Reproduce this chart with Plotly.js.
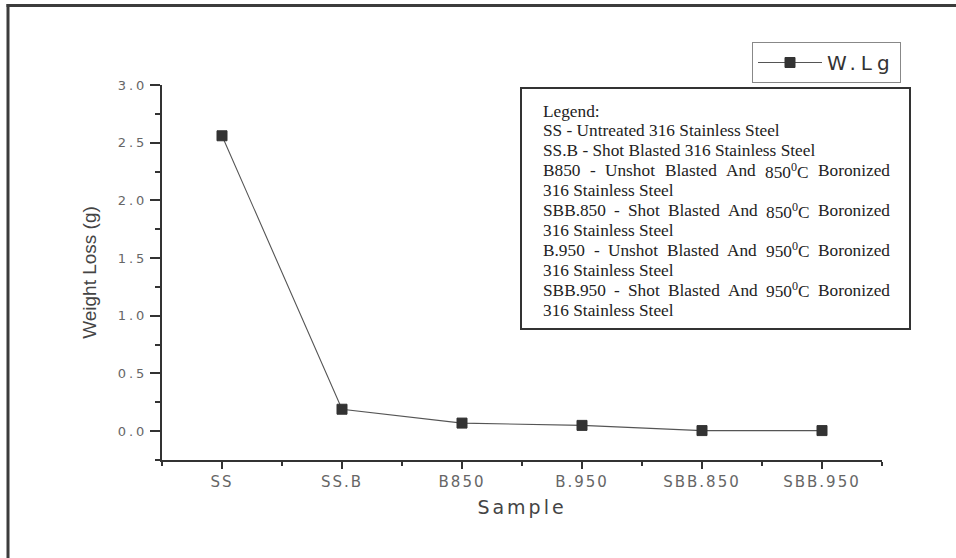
<!DOCTYPE html>
<html>
<head>
<meta charset="utf-8">
<script src="https://cdn.plot.ly/plotly-3.0.1.min.js"></script>
<style>
  html, body { margin: 0; padding: 0; background: #fff; }
  #chart { width: 956px; height: 558px; }
  .ytick text { letter-spacing: 3px; }
  .xtick text { letter-spacing: 2px; }
  .g-xtitle text { letter-spacing: 3px; }
  .legendtext { letter-spacing: 5px; }
</style>
</head>
<body>
<div id="chart"></div>
<script>
// ---- data ----
const categories = ['SS', 'SS.B', 'B850', 'B.950', 'SBB.850', 'SBB.950'];
const weightLoss = [2.56, 0.19, 0.07, 0.05, 0.005, 0.005];
const seriesName = 'W.Lg';
const xTitle = 'Sample';
const yTitle = 'Weight Loss (g)';
const noteLines = [
  'Legend:',
  'SS - Untreated 316 Stainless Steel',
  'SS.B - Shot Blasted 316 Stainless Steel',
  'B850 - Unshot Blasted And 850<sup>0</sup>C Boronized',
  '316 Stainless Steel',
  'SBB.850 - Shot Blasted And 850<sup>0</sup>C Boronized',
  '316 Stainless Steel',
  'B.950 - Unshot Blasted And 950<sup>0</sup>C Boronized',
  '316 Stainless Steel',
  'SBB.950 - Shot Blasted And 950<sup>0</sup>C Boronized',
  '316 Stainless Steel'
];
const noteJustified = [false, false, false, true, false, true, false, true, false, true, false];

// ---- geometry ----
const W = 956, H = 558;
const M = { l: 162, r: 74, t: 85, b: 98 };
const PW = W - M.l - M.r, PH = H - M.t - M.b;
const px2x = p => (p - M.l) / PW;
const py2y = p => (H - M.b - p) / PH;

const noteFont = 'Liberation Serif';
const noteSize = 17.3;
const noteLeft = 542, noteRight = 889, noteTop = 111, noteStep = 19.9;

const cv = document.createElement('canvas').getContext('2d');
function measureHTML(s) {
  let w = 0, last = 0, m;
  const re = /<sup>(.*?)<\/sup>/g;
  cv.font = noteSize + 'px "' + noteFont + '"';
  while ((m = re.exec(s))) {
    w += cv.measureText(s.slice(last, m.index)).width;
    cv.font = (noteSize * 0.7) + 'px "' + noteFont + '"';
    w += cv.measureText(m[1]).width;
    cv.font = noteSize + 'px "' + noteFont + '"';
    last = re.lastIndex;
  }
  w += cv.measureText(s.slice(last)).width;
  return w;
}

const annotations = [];
noteLines.forEach((line, i) => {
  const yc = py2y(noteTop + i * noteStep);
  const base = {
    xref: 'paper', yref: 'paper', xanchor: 'left', yanchor: 'middle',
    showarrow: false, borderpad: 0,
    font: { family: noteFont, size: noteSize, color: '#222' }
  };
  if (!noteJustified[i]) {
    annotations.push(Object.assign({}, base, { x: px2x(noteLeft), y: yc, text: line }));
  } else {
    const words = line.split(' ');
    const widths = words.map(measureHTML);
    const total = widths.reduce((a, b) => a + b, 0);
    const gap = (noteRight - noteLeft - total) / (words.length - 1);
    let pos = noteLeft;
    words.forEach((w, k) => {
      annotations.push(Object.assign({}, base, { x: px2x(pos), y: yc, text: w }));
      pos += widths[k] + gap;
    });
  }
});

const xIdx = categories.map((c, i) => i);

const trace = {
  x: xIdx,
  y: weightLoss,
  name: seriesName,
  type: 'scatter',
  mode: 'lines+markers',
  line: { color: '#555', width: 1.1 },
  marker: { symbol: 'square', size: 10, color: '#333', line: { color: '#333', width: 1 } },
  showlegend: true
};

const layout = {
  width: W, height: H,
  margin: M,
  paper_bgcolor: '#fff', plot_bgcolor: '#fff',
  showlegend: true,
  legend: {
    x: px2x(752), y: py2y(42), xanchor: 'left', yanchor: 'top',
    bgcolor: '#fff', bordercolor: '#888', borderwidth: 1,
    itemwidth: 64,
    font: { family: 'DejaVu Sans', size: 20, color: '#333' }
  },
  xaxis: {
    range: [-0.5, 5.5],
    tickmode: 'array', tickvals: xIdx, ticktext: categories,
    ticks: 'outside', ticklen: 7, tickwidth: 2, tickcolor: '#333',
    showline: true, linewidth: 2, linecolor: '#333',
    showgrid: false, zeroline: false,
    tickfont: { family: 'DejaVu Sans', size: 15, color: '#666' },
    minor: { tick0: -0.5, dtick: 1, ticks: 'outside', ticklen: 4, tickwidth: 2, tickcolor: '#333', showgrid: false },
    title: { text: xTitle, font: { family: 'DejaVu Sans', size: 19, color: '#444' }, standoff: 11 }
  },
  yaxis: {
    range: [-0.25, 3.0],
    tick0: 0, dtick: 0.5, tickformat: '.1f',
    ticks: 'outside', ticklen: 10, tickwidth: 2, tickcolor: '#333',
    showline: true, linewidth: 2, linecolor: '#333',
    showgrid: false, zeroline: false,
    tickfont: { family: 'DejaVu Sans', size: 13, color: '#666' },
    minor: { dtick: 0.25, ticks: 'outside', ticklen: 5, tickwidth: 2, tickcolor: '#333', showgrid: false },
    title: { text: yTitle, font: { family: 'Liberation Sans', size: 19, color: '#444' }, standoff: 16 }
  },
  shapes: [
    { type: 'rect', xref: 'paper', yref: 'paper', x0: px2x(521), x1: px2x(910), y0: py2y(329), y1: py2y(88),
      line: { color: '#333', width: 2 }, fillcolor: 'rgba(0,0,0,0)' },
    { type: 'line', xref: 'paper', yref: 'paper', x0: px2x(8), x1: px2x(8), y0: py2y(4), y1: py2y(H + 2),
      line: { color: '#3c3c3c', width: 3 } },
    { type: 'line', xref: 'paper', yref: 'paper', x0: px2x(6.5), x1: px2x(W + 2), y0: py2y(5.5), y1: py2y(5.5),
      line: { color: '#3c3c3c', width: 3 } }
  ],
  annotations: annotations
};

Plotly.newPlot('chart', [trace], layout, { displayModeBar: false, staticPlot: true });
</script>
</body>
</html>
